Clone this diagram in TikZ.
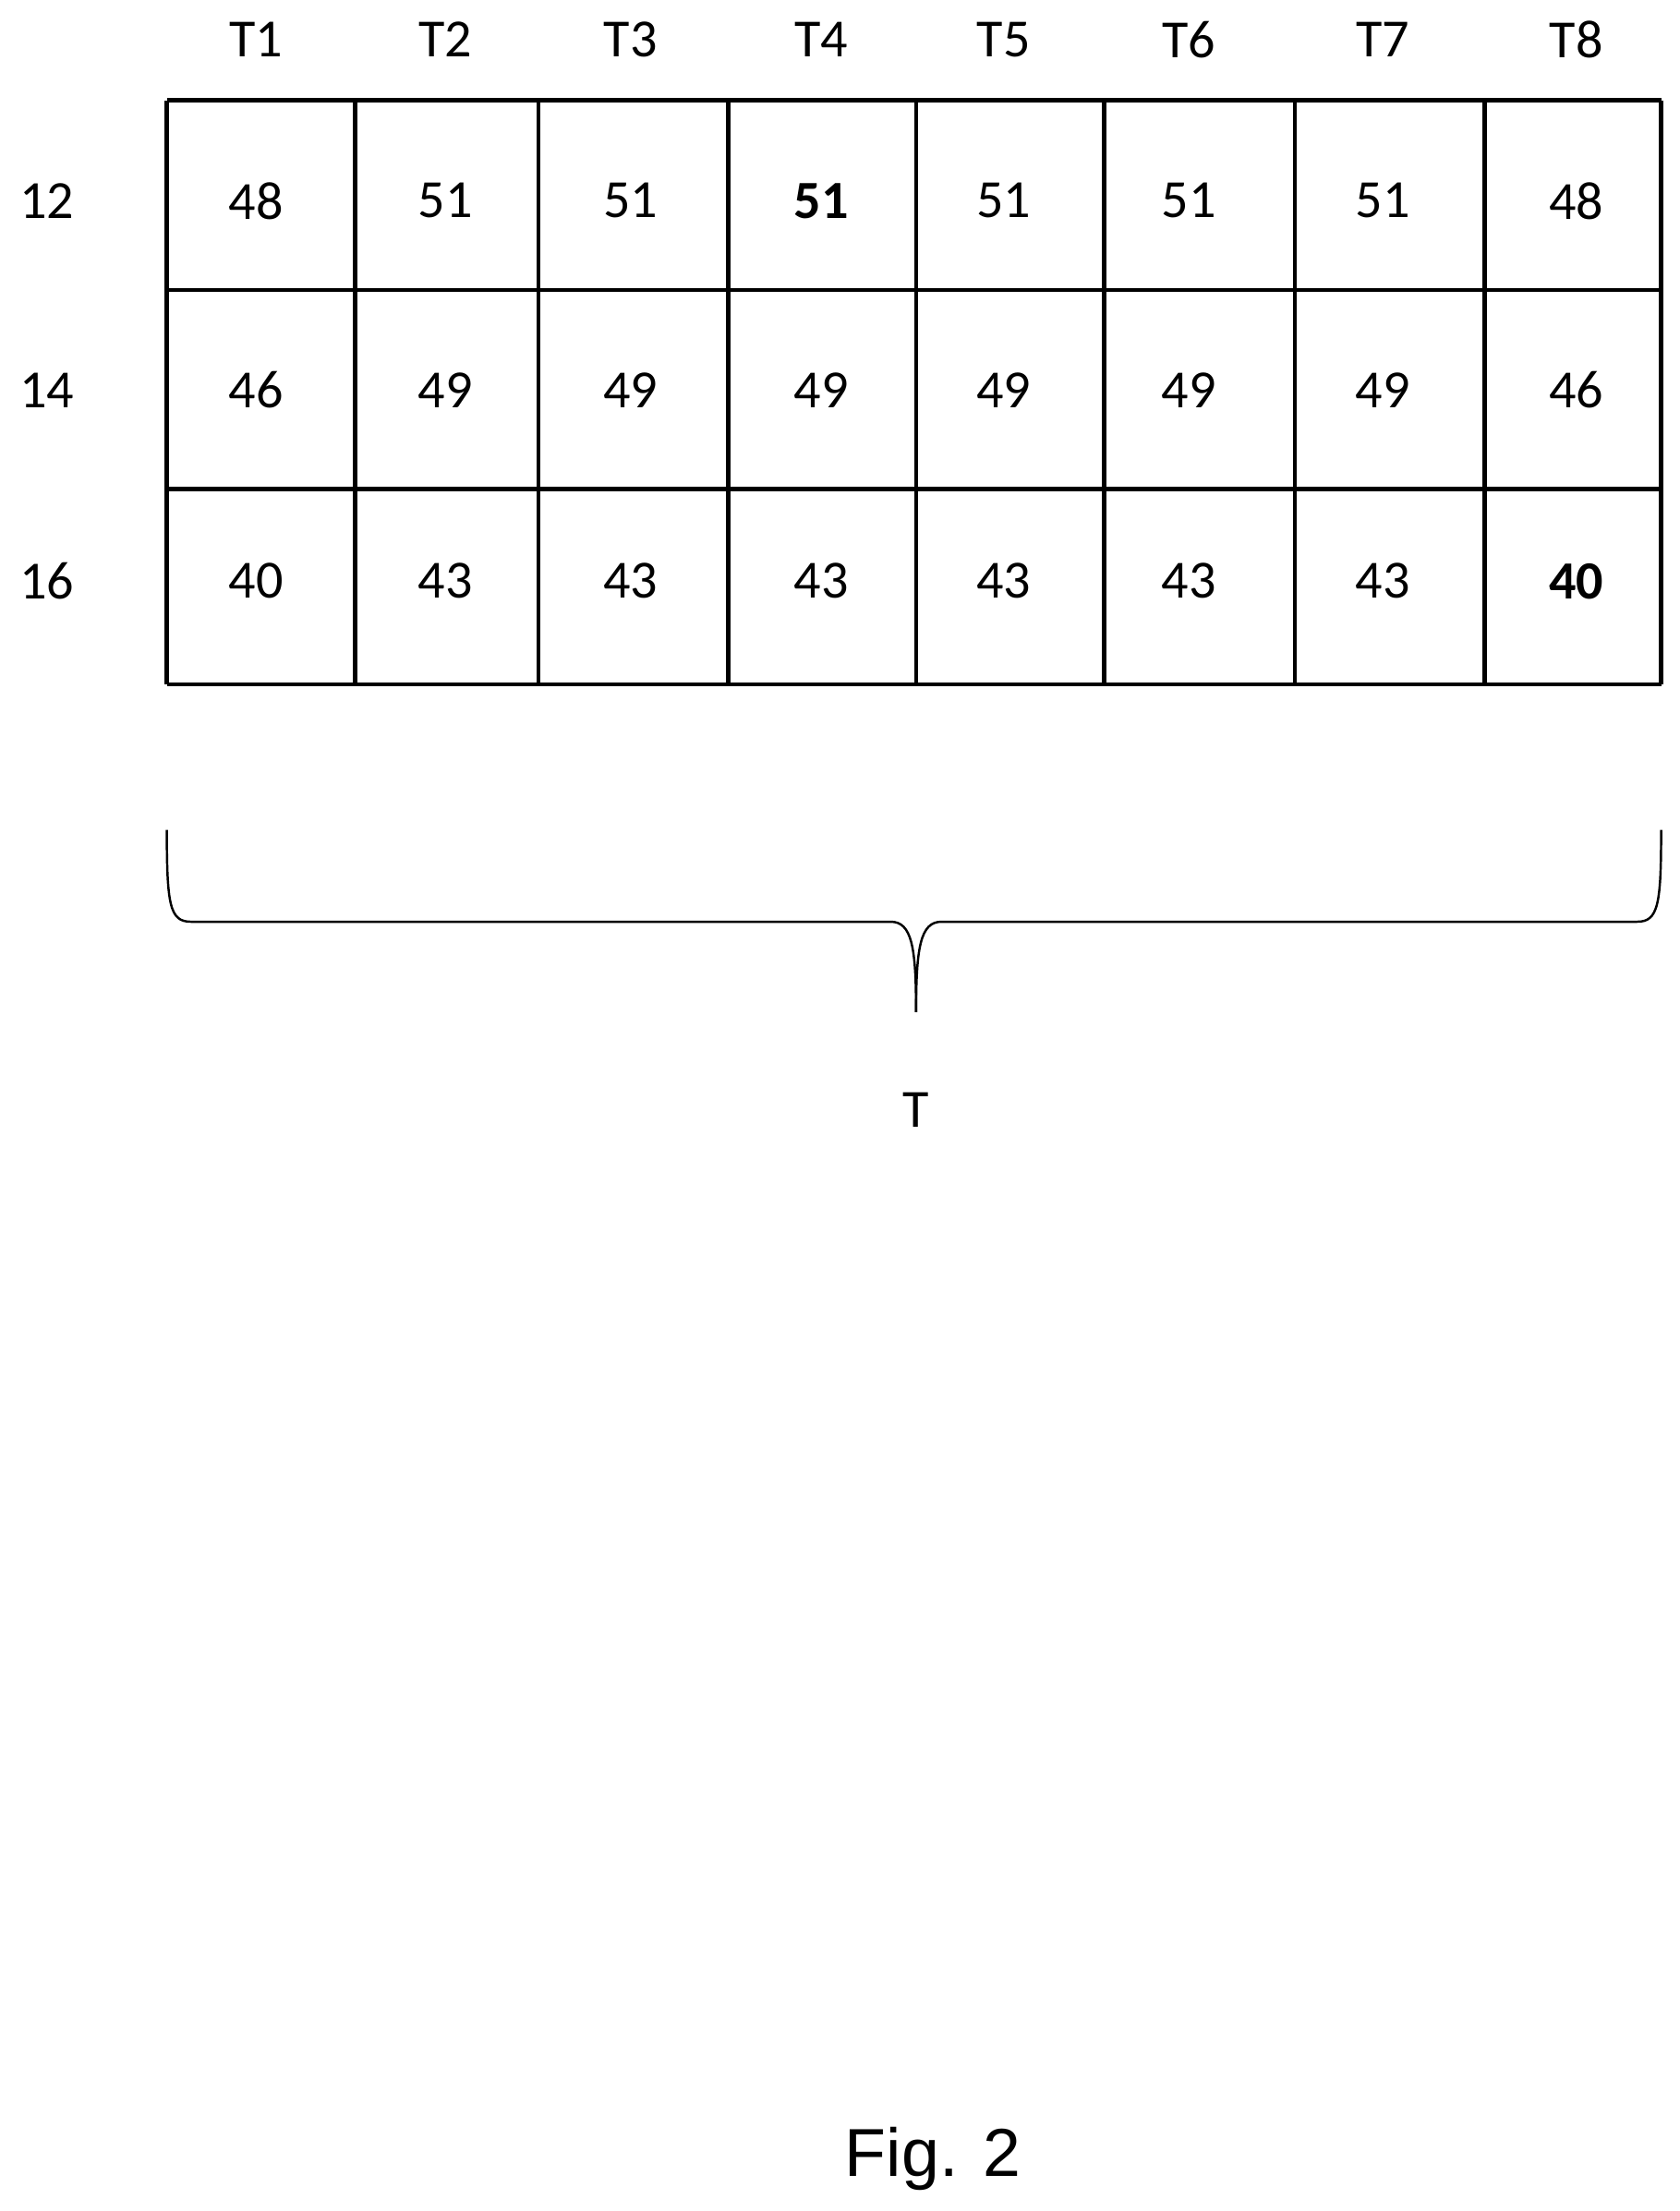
\documentclass[tikz,border=0pt]{standalone}
\usepackage{fontspec}
\setmainfont{Carlito}
\newfontfamily\arialf{Liberation Sans}
\begin{document}
\begin{tikzpicture}[x=0.5pt,y=-0.5pt,
  cell/.style={font=\fontsize{19}{22}\selectfont},
  grid/.style={line width=1.5pt},
  br/.style={line width=0.8pt}]
\useasboundingbox (0,0) rectangle (1188,1564);
\def\xs{{118,251,381,515,648,781,916,1050,1175}}
\def\ys{{71,205,346,484}}
\foreach \x in {118,251,381,515,648,781,916,1050,1175} \draw[grid] (\x,71) -- (\x,484);
\foreach \y in {71,205,346,484} \draw[grid] (118,\y) -- (1175,\y);
\foreach \c [count=\i] in {181,315,446,581,710,841,978,1115} \node[cell] (t\i) at (\c,28) {T\i};
\foreach \l/\y in {12/142,14/276,16/411} \node[cell] (r\l) at (33,\y) {\l};
\foreach \v [count=\i] in {48,51,51,\textbf{51},51,51,51,48} {
  \pgfmathsetmacro\c{{181,315,446,581,710,841,978,1115}[\i-1]}
  \node[cell] (a\i) at (\c,142) {\v};}
\foreach \v [count=\i] in {46,49,49,49,49,49,49,46} {
  \pgfmathsetmacro\c{{181,315,446,581,710,841,978,1115}[\i-1]}
  \node[cell] (b\i) at (\c,276) {\v};}
\foreach \v [count=\i] in {40,43,43,43,43,43,43,\textbf{40}} {
  \pgfmathsetmacro\c{{181,315,446,581,710,841,978,1115}[\i-1]}
  \node[cell] (c\i) at (\c,411) {\v};}
\draw[br] (118,587) .. controls (118,640) and (120,652) .. (135,652)
  -- (630,652) .. controls (645,652) and (648,670) .. (648,716);
\draw[br] (1175,587) .. controls (1175,640) and (1173,652) .. (1158,652)
  -- (666,652) .. controls (651,652) and (648,670) .. (648,716);
\node[cell] (T) at (648,785) {T};
\node[font=\arialf\fontsize{24}{28}\selectfont] (fig) at (660,1527) {Fig. 2};
\end{tikzpicture}
\end{document}
